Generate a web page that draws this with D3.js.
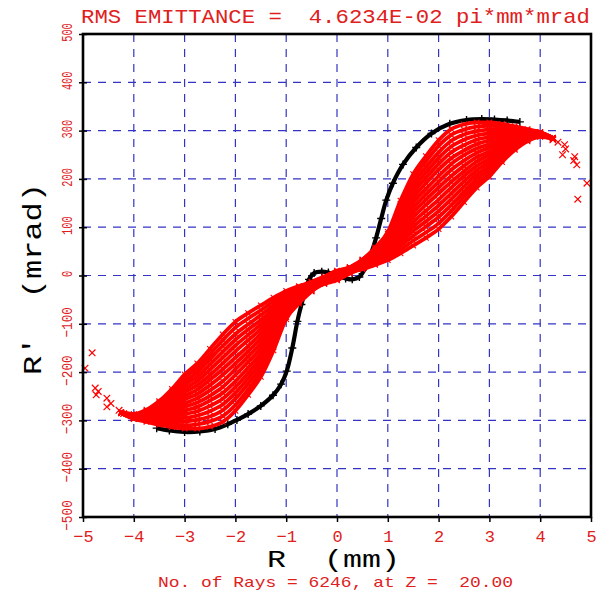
<!DOCTYPE html>
<html>
<head>
<meta charset="utf-8">
<script src="https://cdn.jsdelivr.net/npm/d3@7"></script>
<style>
  html, body { margin: 0; padding: 0; background: #ffffff; }
  svg { display: block; }
  svg text { white-space: pre; }
</style>
</head>
<body>
<svg id="chart" width="608" height="591"></svg>
<script>
// ---- axis ticks ----
const xTickValues = [-5, -4, -3, -2, -1, 0, 1, 2, 3, 4, 5];
const yTickValues = [-500, -400, -300, -200, -100, 0, 100, 200, 300, 400, 500];

// ---- texts ----
const titleText = "RMS EMITTANCE =  4.6234E-02 pi*mm*mrad";
const xTitleText = "R  (mm)";
const yTitleText = "R\u2032  (mrad)";
const footText = "No. of Rays = 6246, at Z =  20.00";

// ---- reference trajectory (black '+'), R in mm, R' in mrad ----
const blackR = [-3.55, -3.3, -3.0, -2.7, -2.4, -2.15, -1.97, -1.75, -1.5, -1.26, -1.1, -0.99, -0.88, -0.78, -0.7, -0.62, -0.55, -0.45, -0.3, -0.17,
                0, 0.17, 0.3, 0.44, 0.57, 0.67, 0.77, 0.87, 0.97, 1.1, 1.3, 1.56, 1.86, 2.22, 2.55, 2.85, 3.1, 3.35, 3.6];
const blackRp = [-316, -321, -324, -323, -318, -308, -299, -287, -270, -248, -225, -198, -150, -95, -60, -30, -8, 5, 8, 6,
                 0, -6, -8, -3, 18, 45, 78, 118, 156, 191, 230, 265, 294, 314, 322, 324, 323, 321, 318];

// ---- ray bundle (red 'x'), sampled on a common R grid ----
const rGrid = [-4.25, -4.0, -3.75, -3.5, -3.25, -3.0, -2.75, -2.5, -2.25, -2.0, -1.75, -1.5, -1.25, -1.0, -0.75, -0.5, -0.25,
               0, 0.25, 0.5, 0.75, 1.0, 1.25, 1.5, 1.75, 2.0, 2.25, 2.5, 2.75, 3.0, 3.25, 3.5, 3.75, 4.0, 4.25];
const redTracks = [
  [-285,-297,-303,-309,-314,-317,-317,-313,-303,-280,-247,-210,-155,-90,-58,-33,-11,5,17,33,58,90,155,210,247,280,303,313,317,317,314,309,303,297,285],
  [-285,-296,-301,-306,-309,-310,-308,-302,-291,-268,-236,-200,-148,-86,-56,-32,-17,-7,9,32,56,86,148,200,236,268,291,302,308,310,309,306,301,296,285],
  [-285,-296,-300,-302,-303,-302,-299,-292,-279,-255,-224,-190,-140,-82,-53,-30,-11,3,15,30,53,82,140,190,224,255,279,292,299,302,303,302,300,296,285],
  [-285,-295,-298,-299,-298,-295,-290,-281,-267,-243,-213,-180,-133,-78,-51,-29,-17,-10,7,29,51,78,133,180,213,243,267,281,290,295,298,299,298,295,285],
  [-285,-294,-296,-296,-293,-287,-281,-270,-255,-231,-202,-171,-126,-75,-48,-28,-7,9,17,28,48,75,126,171,202,231,255,270,281,287,293,296,296,294,285],
  [-285,-294,-295,-293,-288,-280,-272,-259,-243,-219,-191,-161,-119,-71,-46,-26,-13,-3,9,26,46,71,119,161,191,219,243,259,272,280,288,293,295,294,285],
  [-284,-293,-293,-289,-282,-272,-263,-249,-231,-206,-179,-151,-111,-67,-44,-25,-7,7,15,25,44,67,111,151,179,206,231,249,263,272,282,289,293,293,284],
  [-284,-292,-291,-286,-277,-265,-254,-238,-219,-194,-168,-141,-104,-63,-41,-24,-15,-9,5,24,41,63,104,141,168,194,219,238,254,265,277,286,291,292,284],
  [-284,-292,-290,-283,-272,-257,-245,-227,-206,-182,-157,-131,-97,-59,-39,-22,-9,1,11,22,39,59,97,131,157,182,206,227,245,257,272,283,290,292,284],
  [-284,-291,-288,-280,-267,-250,-236,-216,-194,-170,-146,-121,-90,-55,-36,-21,-4,10,14,21,36,55,90,121,146,170,194,216,236,250,267,280,288,291,284],
  [-284,-290,-286,-276,-261,-242,-227,-206,-182,-157,-134,-111,-82,-51,-34,-20,-12,-5,6,20,34,51,82,111,134,157,182,206,227,242,261,276,286,290,284],
  [-284,-290,-285,-273,-256,-235,-218,-195,-170,-145,-123,-101,-75,-47,-32,-18,-5,6,11,18,32,47,75,101,123,145,170,195,218,235,256,273,285,290,284],
  [-283,-289,-283,-270,-251,-227,-209,-184,-158,-133,-112,-92,-68,-44,-29,-17,-12,-8,4,17,29,44,68,92,112,133,158,184,209,227,251,270,283,289,283],
  [-283,-288,-281,-267,-246,-220,-200,-173,-146,-121,-101,-82,-61,-40,-27,-16,-6,2,8,16,27,40,61,82,101,121,146,173,200,220,246,267,281,288,283],
  [-283,-288,-280,-263,-240,-212,-191,-163,-134,-108,-89,-72,-53,-36,-24,-14,-9,-4,5,14,24,36,53,72,89,108,134,163,191,212,240,263,280,288,283],
  [-283,-287,-278,-260,-235,-205,-182,-152,-122,-96,-78,-62,-46,-32,-22,-13,-2,8,10,13,22,32,46,62,78,96,122,152,182,205,235,260,278,287,283]
];

// ---- stray rays beyond the bundle edge ----
const strayR  = [4.25, 4.35, 4.48, 4.44, 4.5, 4.68, 4.72, 4.66, 4.92, 4.74,
                 -4.82, -4.96, -4.76, -4.74, -4.7, -4.53, -4.53, -4.45, -4.29, -4.04, -4.2];
const strayRp = [281, 276, 271, 250, 262, 246, 229, 238, 191, 158,
                 -160, -192, -233, -247, -240, -254, -272, -265, -279, -289, -286];

// ---- layout ----
const svg = d3.select("#chart");
const plot = { left: 83, right: 591, top: 34, bottom: 517 };
const RED = "#e0201c";
const MONO = "'Liberation Mono', 'Courier New', monospace";

const x = d3.scaleLinear().domain([-5, 5]).range([plot.left, plot.right]);
const y = d3.scaleLinear().domain([-500, 500]).range([plot.bottom, plot.top]);

// dashed grid
const grid = svg.append("g").attr("stroke", "#3434c4").attr("stroke-width", 1.2)
  .attr("stroke-dasharray", "8,7").attr("fill", "none");
grid.selectAll("line.v").data(xTickValues.slice(1, -1)).join("line").attr("class", "v")
  .attr("x1", d => x(d)).attr("x2", d => x(d)).attr("y1", plot.top).attr("y2", plot.bottom);
grid.selectAll("line.h").data(yTickValues.slice(1, -1)).join("line").attr("class", "h")
  .attr("y1", d => y(d)).attr("y2", d => y(d)).attr("x1", plot.left).attr("x2", plot.right);

// reference trajectory
const black = blackR.map((r, i) => [r, blackRp[i]]);
const lineGen = d3.line().x(d => x(d[0])).y(d => y(d[1])).curve(d3.curveCatmullRom.alpha(0.5));
svg.append("path").datum(black).attr("d", lineGen)
  .attr("fill", "none").attr("stroke", "#000").attr("stroke-width", 4.2);
const plusPath = s => `M${-s},0H${s}M0,${-s}V${s}`;
svg.append("g").selectAll("path").data(black).join("path")
  .attr("transform", d => `translate(${x(d[0])},${y(d[1])})`)
  .attr("d", plusPath(4)).attr("stroke", "#000").attr("stroke-width", 1.4).attr("fill", "none");

// ray bundle
const redLine = d3.line().x(d => x(d[0])).y(d => y(d[1])).curve(d3.curveMonotoneX);
const tracks = redTracks.map(row => row.map((v, i) => [rGrid[i], v]));
const bundle = svg.append("g");
bundle.selectAll("path.track").data(tracks).join("path").attr("class", "track")
  .attr("d", redLine).attr("fill", "none").attr("stroke", "#ff0000").attr("stroke-width", 3.8);
const timesPath = s => `M${-s},${-s}L${s},${s}M${-s},${s}L${s},${-s}`;
bundle.selectAll("path.mark").data(tracks.flat()).join("path").attr("class", "mark")
  .attr("transform", d => `translate(${x(d[0])},${y(d[1])})`)
  .attr("d", timesPath(2.8)).attr("stroke", "#ff0000").attr("stroke-width", 1.1).attr("fill", "none");
bundle.selectAll("path.stray").data(strayR.map((r, i) => [r, strayRp[i]])).join("path").attr("class", "stray")
  .attr("transform", d => `translate(${x(d[0])},${y(d[1])})`)
  .attr("d", timesPath(3.3)).attr("stroke", "#ff0000").attr("stroke-width", 1.2).attr("fill", "none");

// bottom axis
const xAxis = svg.append("g").attr("transform", `translate(0,${plot.bottom})`)
  .call(d3.axisBottom(x).tickValues(xTickValues).tickSize(5).tickPadding(8).tickFormat(d3.format("d")));
xAxis.select(".domain").remove();
xAxis.selectAll(".tick line").attr("stroke", "#000").attr("stroke-width", 1.5);
xAxis.selectAll(".tick text").attr("fill", RED).attr("font-family", MONO).attr("font-size", 17)
  .text(d => d < 0 ? "\u2212" + Math.abs(d) : String(d));

// left axis with rotated labels
const yAxis = svg.append("g").attr("transform", `translate(${plot.left},0)`)
  .call(d3.axisLeft(y).tickValues(yTickValues).tickSize(4).tickFormat(d3.format("d")));
yAxis.select(".domain").remove();
yAxis.selectAll(".tick line").attr("x1", 4).attr("x2", -4).attr("stroke", "#000").attr("stroke-width", 1.5);
yAxis.selectAll(".tick text")
  .attr("x", null).attr("dy", null).attr("text-anchor", "middle")
  .attr("transform", "translate(-11,-2) rotate(-90)")
  .attr("fill", RED).attr("font-family", MONO).attr("font-size", 15.5)
  .text(d => d < 0 ? "\u2212" + Math.abs(d) : String(d))
  .attr("textLength", d => String(Math.abs(d)).length * 6.2 + (d < 0 ? 12 : 0))
  .attr("lengthAdjust", "spacingAndGlyphs");

// frame
svg.append("rect").attr("x", plot.left).attr("y", plot.top)
  .attr("width", plot.right - plot.left).attr("height", plot.bottom - plot.top)
  .attr("fill", "none").attr("stroke", "#000").attr("stroke-width", 2.6);

// titles
svg.append("text").attr("x", 81).attr("y", 23).text(titleText)
  .attr("fill", RED).attr("font-family", MONO).attr("font-size", 21)
  .attr("textLength", 509).attr("lengthAdjust", "spacingAndGlyphs");
svg.append("text").attr("x", 267).attr("y", 567).text(xTitleText)
  .attr("fill", "#000").attr("font-family", MONO).attr("font-size", 23)
  .attr("textLength", 133).attr("lengthAdjust", "spacingAndGlyphs");
svg.append("text").attr("transform", "translate(41,279) rotate(-90)").attr("text-anchor", "middle")
  .text(yTitleText).attr("fill", "#000").attr("font-family", MONO).attr("font-size", 25)
  .attr("textLength", 192).attr("lengthAdjust", "spacingAndGlyphs");
svg.append("text").attr("x", 158).attr("y", 586.5).text(footText)
  .attr("fill", RED).attr("font-family", MONO).attr("font-size", 15)
  .attr("textLength", 355).attr("lengthAdjust", "spacingAndGlyphs");
</script>
</body>
</html>
